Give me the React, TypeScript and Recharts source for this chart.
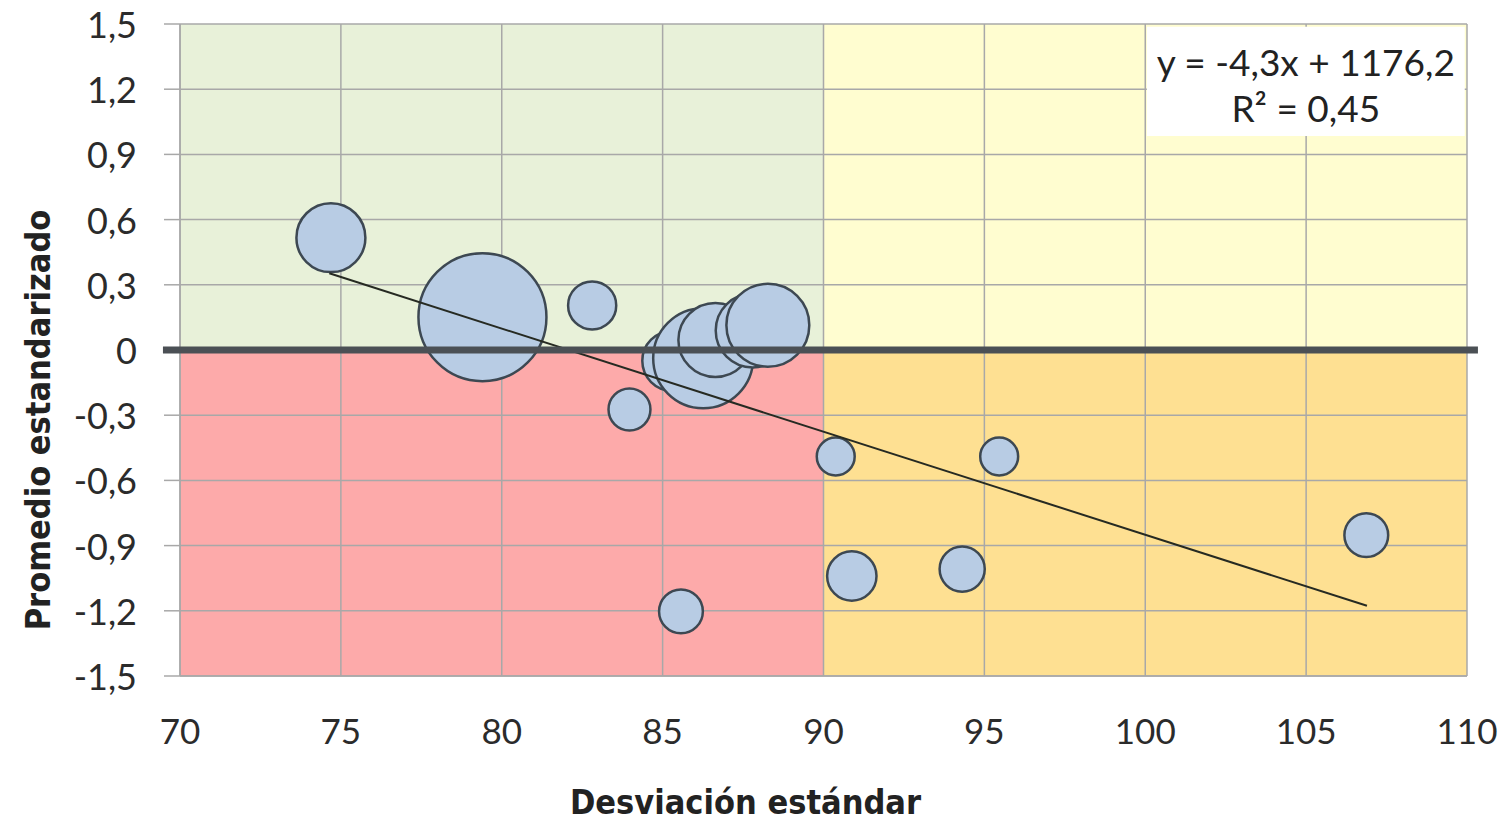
import React from 'react'
import {
  ScatterChart,
  Scatter,
  XAxis,
  YAxis,
  ZAxis,
  CartesianGrid,
  ReferenceArea,
  ReferenceLine,
} from 'recharts'

// valores
const desviacion = [74.69, 79.4, 82.81, 83.97, 85.57, 90.38, 95.46, 90.88, 94.31, 106.87, 85.3, 86.26, 86.64, 87.8, 88.27]
const promedio = [0.517, 0.151, 0.205, -0.274, -1.203, -0.49, -0.49, -1.04, -1.008, -0.852, -0.05, -0.038, 0.046, 0.09, 0.114]
const tamano = [11.9, 41, 5.8, 4.4, 4.8, 3.6, 3.6, 6.1, 5.1, 4.8, 9.0, 25, 13.7, 13.7, 17.2]

const tendenciaX = [74.64, 106.89]
const tendenciaY = [0.353, -1.177]

const xTicks = [70, 75, 80, 85, 90, 95, 100, 105, 110]
const yTicks = [-1.5, -1.2, -0.9, -0.6, -0.3, 0, 0.3, 0.6, 0.9, 1.2, 1.5]

const ecuacion = 'y = -4,3x + 1176,2'
const r2 = 'R² = 0,45'

const burbujas = desviacion.map((x, i) => ({ x, y: promedio[i], z: tamano[i] }))
const tendencia = tendenciaX.map((x, i) => ({ x, y: tendenciaY[i] }))

const FONT = 'Lato, "Open Sans", sans-serif'
const TITLE_FONT = '"Liberation Sans Narrow", "DejaVu Sans Condensed", sans-serif'
const GRID = '#a8a8a8'

const fmt = (v: number) => (v === 0 ? '0' : v.toFixed(1).replace('.', ','))

const XTick = ({ x, y, payload }: any) => (
  <text x={x} y={y + 54} textAnchor="middle" dominantBaseline="central" fontSize={35} fontFamily={FONT} fill="#2b2b2b">
    {payload.value}
  </text>
)

const YTick = ({ x, y, payload }: any) => (
  <text x={x} y={y} textAnchor="end" dominantBaseline="central" fontSize={36} fontFamily={FONT} fill="#2b2b2b">
    {fmt(payload.value)}
  </text>
)

const EquationLabel = ({ viewBox }: any) => {
  const cx = viewBox.x + viewBox.width / 2
  return (
    <g fontFamily={FONT} fontSize={37} fill="#222" textAnchor="middle">
      <text x={cx} y={viewBox.y + 35} dominantBaseline="central">{ecuacion}</text>
      <text x={cx} y={viewBox.y + 81} dominantBaseline="central">{r2}</text>
    </g>
  )
}

export default function App() {
  return (
    <div style={{ position: 'absolute', left: 0, top: 0, background: '#fff' }}>
      <ScatterChart width={1505} height={821} margin={{ top: 24, right: 38, left: 0, bottom: 0 }}>
        <ReferenceArea x1={70} x2={90} y1={0} y2={1.5} fill="#e8f1d9" fillOpacity={1} stroke="none" zIndex={-200} />
        <ReferenceArea x1={90} x2={110} y1={0} y2={1.5} fill="#fffdd0" fillOpacity={1} stroke="none" zIndex={-200} />
        <ReferenceArea x1={70} x2={90} y1={-1.5} y2={0} fill="#fdaaaa" fillOpacity={1} stroke="none" zIndex={-200} />
        <ReferenceArea x1={90} x2={110} y1={-1.5} y2={0} fill="#fee092" fillOpacity={1} stroke="none" zIndex={-200} />
        <CartesianGrid stroke={GRID} strokeWidth={1.5} zIndex={-150} />
        <XAxis
          type="number"
          dataKey="x"
          domain={[70, 110]}
          ticks={xTicks}
          allowDataOverflow
          height={145}
          tickSize={0}
          tickMargin={0}
          tick={<XTick />}
          tickLine={false}
          axisLine={{ stroke: GRID, strokeWidth: 1.5 }}
          label={{
            content: ({ viewBox }: any) => (
              <text
                x={viewBox.x + viewBox.width / 2 - 78}
                y={viewBox.y + 138}
                textAnchor="middle"
                fontSize={34}
                fontWeight="bold"
                fontFamily={TITLE_FONT}
                fill="#222"
              >
                Desviación estándar
              </text>
            ),
          }}
        />
        <YAxis
          type="number"
          dataKey="y"
          domain={[-1.5, 1.5]}
          ticks={yTicks}
          allowDataOverflow
          width={180}
          tickSize={16}
          tickMargin={27}
          tick={<YTick />}
          tickLine={{ stroke: GRID, strokeWidth: 1.5 }}
          axisLine={{ stroke: GRID, strokeWidth: 1.5 }}
          label={{
            content: ({ viewBox }: any) => (
              <text
                transform={`translate(${viewBox.x + 38}, ${viewBox.y + viewBox.height / 2 + 70}) rotate(-90)`}
                textAnchor="middle"
                dominantBaseline="central"
                fontSize={34}
                fontWeight="bold"
                fontFamily={TITLE_FONT}
                fill="#222"
              >
                Promedio estandarizado
              </text>
            ),
          }}
        />
        <ZAxis type="number" dataKey="z" domain={[0, 41]} range={[0, Math.PI * 64 * 64]} />
        <Scatter
          data={burbujas}
          fill="#b8cce4"
          stroke="#3d4852"
          strokeWidth={2.5}
          isAnimationActive={false}
        />
        <Scatter
          data={tendencia}
          line={{ stroke: '#262a22', strokeWidth: 2 }}
          shape={() => <g />}
          isAnimationActive={false}
          zIndex={650}
        />
        <ReferenceLine
          segment={[{ x: 69.47, y: 0 }, { x: 110.34, y: 0 }]}
          stroke="#4b5055"
          strokeWidth={7}
          ifOverflow="visible"
          zIndex={700}
        />
        <ReferenceArea
          x1={100.05}
          x2={109.93}
          y1={0.985}
          y2={1.487}
          fill="#ffffff"
          fillOpacity={1}
          stroke="none"
          zIndex={800}
          label={<EquationLabel />}
        />
      </ScatterChart>
    </div>
  )
}
